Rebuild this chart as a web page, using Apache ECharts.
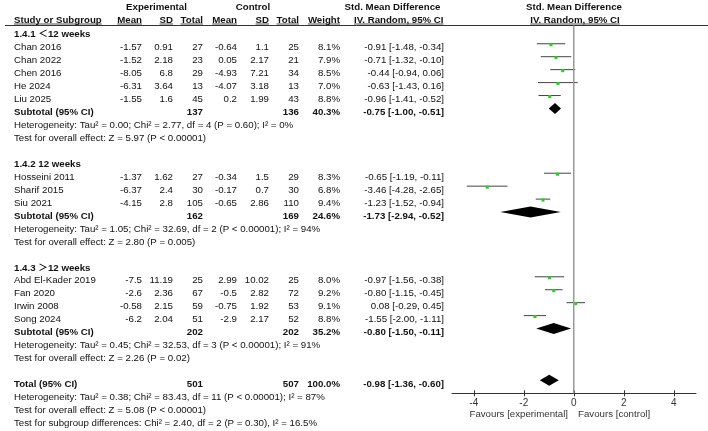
<!DOCTYPE html>
<html>
<head>
<meta charset="utf-8">
<script src="https://cdn.jsdelivr.net/npm/echarts@6/dist/echarts.min.js"></script>
<style>
  html, body { margin: 0; padding: 0; background: #fff; }
  #chart { width: 708px; height: 431px; }
</style>
</head>
<body>
<div id="chart"></div>
<script>
// ---- data ----
var groupNames = ['1.4.1 ＜12 weeks', '1.4.2 12 weeks', '1.4.3 ＞12 weeks'];
var groupOf = [0, 0, 0, 0, 0, 1, 1, 1, 2, 2, 2, 2];
var studies = ['Chan 2016', 'Chan 2022', 'Chen 2016', 'He 2024', 'Liu 2025',
  'Hosseini 2011', 'Sharif 2015', 'Siu 2021',
  'Abd El-Kader 2019', 'Fan 2020', 'Irwin 2008', 'Song 2024'];
var expMean = [-1.57, -1.52, -8.05, -6.31, -1.55, -1.37, -6.37, -4.15, -7.5, -2.6, -0.58, -6.2];
var expSD = [0.91, 2.18, 6.8, 3.64, 1.6, 1.62, 2.4, 2.8, 11.19, 2.36, 2.15, 2.04];
var expN = [27, 23, 29, 13, 45, 27, 30, 105, 25, 67, 59, 51];
var ctlMean = [-0.64, 0.05, -4.93, -4.07, 0.2, -0.34, -0.17, -0.65, 2.99, -0.5, -0.75, -2.9];
var ctlSD = [1.1, 2.17, 7.21, 3.18, 1.99, 1.5, 0.7, 2.86, 10.02, 2.82, 1.92, 2.17];
var ctlN = [25, 21, 34, 13, 43, 29, 30, 110, 25, 72, 53, 52];
var weight = [8.1, 7.9, 8.5, 7.0, 8.8, 8.3, 6.8, 9.4, 8.0, 9.2, 9.1, 8.8];
var smd = [-0.91, -0.71, -0.44, -0.63, -0.96, -0.65, -3.46, -1.23, -0.97, -0.80, 0.08, -1.55];
var ciLow = [-1.48, -1.32, -0.94, -1.43, -1.41, -1.19, -4.28, -1.52, -1.56, -1.15, -0.29, -2.00];
var ciHigh = [-0.34, -0.10, 0.06, 0.16, -0.52, -0.11, -2.65, -0.94, -0.38, -0.45, 0.45, -1.11];

// subtotals per subgroup
var subExpN = [137, 162, 202];
var subCtlN = [136, 169, 202];
var subWeight = [40.3, 24.6, 35.2];
var subSmd = [-0.75, -1.73, -0.80];
var subLow = [-1.00, -2.94, -1.50];
var subHigh = [-0.51, -0.52, -0.11];
var subHet = [
  'Heterogeneity: Tau² = 0.00; Chi² = 2.77, df = 4 (P = 0.60); I² = 0%',
  'Heterogeneity: Tau² = 1.05; Chi² = 32.69, df = 2 (P < 0.00001); I² = 94%',
  'Heterogeneity: Tau² = 0.45; Chi² = 32.53, df = 3 (P < 0.00001); I² = 91%'
];
var subEffect = [
  'Test for overall effect: Z = 5.97 (P < 0.00001)',
  'Test for overall effect: Z = 2.80 (P = 0.005)',
  'Test for overall effect: Z = 2.26 (P = 0.02)'
];

// overall
var totalN = [501, 507];
var totalWeight = 100.0;
var totalSmd = [-0.98, -1.36, -0.60];
var totalNotes = [
  'Heterogeneity: Tau² = 0.38; Chi² = 83.43, df = 11 (P < 0.00001); I² = 87%',
  'Test for overall effect: Z = 5.08 (P < 0.00001)',
  'Test for subgroup differences: Chi² = 2.40, df = 2 (P = 0.30), I² = 16.5%'
];

var xTicks = [-4, -2, 0, 2, 4];

// ---- layout helpers ----
var FONT = '"Liberation Sans", Arial, "Noto Sans CJK SC", sans-serif';
var FS = 9.7;
var TXT = '#111';
var colX = [142, 173, 203, 237, 269, 299, 340, 444]; // right edges

function ci(e, l, h) {
  return e.toFixed(2) + ' [' + l.toFixed(2) + ', ' + h.toFixed(2) + ']';
}

var rows = [];
var studyRow = [];
var subRow = [];
var k = 0;
groupNames.forEach(function (g, gi) {
  rows.push({ k: k++, bold: true, label: g, cols: [] });
  studies.forEach(function (s, i) {
    if (groupOf[i] !== gi) return;
    studyRow[i] = k;
    rows.push({ k: k++, bold: false, label: s, cols: [
      String(expMean[i]), String(expSD[i]), String(expN[i]),
      String(ctlMean[i]), String(ctlSD[i]), String(ctlN[i]),
      weight[i].toFixed(1) + '%', ci(smd[i], ciLow[i], ciHigh[i])
    ] });
  });
  subRow[gi] = k;
  rows.push({ k: k++, bold: true, label: 'Subtotal (95% CI)', cols: [
    '', '', String(subExpN[gi]), '', '', String(subCtlN[gi]),
    subWeight[gi].toFixed(1) + '%', ci(subSmd[gi], subLow[gi], subHigh[gi])
  ] });
  rows.push({ k: k++, bold: false, label: subHet[gi], cols: [] });
  rows.push({ k: k++, bold: false, label: subEffect[gi], cols: [] });
  k++;
});
var totalRow = k;
rows.push({ k: k++, bold: true, label: 'Total (95% CI)', cols: [
  '', '', String(totalN[0]), '', '', String(totalN[1]),
  totalWeight.toFixed(1) + '%', ci(totalSmd[0], totalSmd[1], totalSmd[2])
] });
totalNotes.forEach(function (t) { rows.push({ k: k++, bold: false, label: t, cols: [] }); });

var diamonds = subSmd.map(function (v, gi) {
  return [v, subLow[gi], subHigh[gi], subRow[gi]];
});
diamonds.push([totalSmd[0], totalSmd[1], totalSmd[2], totalRow]);

var ctx = document.createElement('canvas').getContext('2d');
function textWidth(t, bold) {
  ctx.font = (bold ? 'bold ' : '') + FS + 'px ' + FONT;
  return ctx.measureText(t).width;
}
function txt(t, x, y, align, bold, color) {
  return {
    type: 'text', silent: true,
    style: {
      text: t, x: x, y: y, align: align, verticalAlign: 'middle',
      textAlign: align, textVerticalAlign: 'middle',
      font: (bold ? 'bold ' : '') + FS + 'px ' + FONT, fill: color || TXT
    }
  };
}

// header texts
var headerY1 = 7, headerY2 = 20.5, underlineY = 24, ruleY = 25.5;
var graphics = [
  txt('Experimental', 156.5, headerY1, 'center', true),
  txt('Control', 253, headerY1, 'center', true),
  txt('Std. Mean Difference', 392.5, headerY1, 'center', true),
  txt('Std. Mean Difference', 574, headerY1, 'center', true)
];
var header2 = [
  ['Study or Subgroup', 14, 'left'], ['Mean', 142, 'right'], ['SD', 173, 'right'],
  ['Total', 203, 'right'], ['Mean', 237, 'right'], ['SD', 269, 'right'],
  ['Total', 299, 'right'], ['Weight', 340, 'right'],
  ['IV. Random, 95% CI', 354, 'left'], ['IV. Random, 95% CI', 575, 'center']
];
header2.forEach(function (h) {
  graphics.push(txt(h[0], h[1], headerY2, h[2], true));
  var w = textWidth(h[0], true);
  var x0 = h[2] === 'left' ? h[1] : (h[2] === 'right' ? h[1] - w : h[1] - w / 2);
  graphics.push({
    type: 'line', silent: true,
    shape: { x1: x0, y1: underlineY, x2: x0 + w, y2: underlineY },
    style: { stroke: '#222', lineWidth: 0.8 }
  });
});
graphics.push({
  type: 'line', silent: true,
  shape: { x1: 5, y1: ruleY, x2: 708, y2: ruleY },
  style: { stroke: '#333', lineWidth: 1 }
});
graphics.push(txt('Favours [experimental]', 568, 414, 'right', false, '#333'));
graphics.push(txt('Favours [control]', 578, 414, 'left', false, '#333'));

var gridPos = { left: 452, right: 12, top: ruleY, bottom: 431 - 393.3 };
var xMin = -4.87, xMax = 4.89;
var yMin = -0.41, yMax = 28;

var chart = echarts.init(document.getElementById('chart'));
chart.setOption({
  animation: false,
  backgroundColor: '#fff',
  grid: [gridPos, gridPos],
  xAxis: [{
    type: 'value', gridIndex: 0, min: xMin, max: xMax, position: 'bottom',
    splitLine: { show: false },
    axisLine: { onZero: false, lineStyle: { color: '#333', width: 1 } },
    axisTick: { customValues: xTicks, length: 3, lineStyle: { color: '#333' } },
    axisLabel: { customValues: xTicks, margin: 5, color: '#333', fontSize: 10, fontFamily: FONT }
  }, {
    type: 'value', gridIndex: 1, min: xMin, max: xMax, position: 'bottom',
    splitLine: { show: false },
    axisLine: { show: false, onZero: false },
    axisTick: { customValues: xTicks, inside: true, length: 3, lineStyle: { color: '#333' } },
    axisLabel: { show: false }
  }],
  yAxis: [
    { type: 'value', gridIndex: 0, inverse: true, min: yMin, max: yMax, show: false },
    { type: 'value', gridIndex: 1, inverse: true, min: yMin, max: yMax, show: false }
  ],
  graphic: { elements: graphics },
  series: [{
    // zero line
    type: 'line', silent: true, symbol: 'none',
    data: [[0, yMin], [0, yMax]],
    lineStyle: { color: '#999', width: 1.5 }
  }, {
    // table text, one row per data item
    type: 'custom', silent: true, clip: false,
    data: rows.map(function (r) { return [0, r.k]; }),
    encode: { x: 0, y: 1 },
    renderItem: function (params, api) {
      var r = rows[params.dataIndex];
      var y = api.coord([0, r.k])[1] + 4;
      var children = [txt(r.label, 14, y, 'left', r.bold)];
      r.cols.forEach(function (c, j) {
        if (c !== '') children.push(txt(c, colX[j], y, 'right', r.bold));
      });
      return { type: 'group', children: children };
    }
  }, {
    // study confidence intervals + point estimates
    type: 'custom', silent: true, clip: false,
    data: studies.map(function (s, i) { return [smd[i], ciLow[i], ciHigh[i], studyRow[i]]; }),
    encode: { x: [0, 1, 2], y: 3 },
    renderItem: function (params, api) {
      var row = api.value(3);
      var a = api.coord([api.value(1), row]);
      var b = api.coord([api.value(2), row]);
      var m = api.coord([api.value(0), row]);
      return { type: 'group', children: [{
        type: 'line',
        shape: { x1: a[0], y1: a[1], x2: b[0], y2: b[1] },
        style: { stroke: '#444', lineWidth: 1 }
      }, {
        type: 'rect',
        shape: { x: m[0] - 1.5, y: m[1] - 0.5, width: 3, height: 3 },
        style: { fill: '#1fd31f' }
      }] };
    }
  }, {
    // pooled diamonds
    type: 'custom', silent: true, clip: false,
    data: diamonds,
    encode: { x: [0, 1, 2], y: 3 },
    renderItem: function (params, api) {
      var row = api.value(3);
      var a = api.coord([api.value(1), row]);
      var b = api.coord([api.value(2), row]);
      var m = api.coord([api.value(0), row]);
      var h = 5.5;
      return {
        type: 'polygon',
        shape: { points: [[a[0], a[1]], [m[0], m[1] - h], [b[0], b[1]], [m[0], m[1] + h]] },
        style: { fill: '#000' }
      };
    }
  }]
});
</script>
</body>
</html>
